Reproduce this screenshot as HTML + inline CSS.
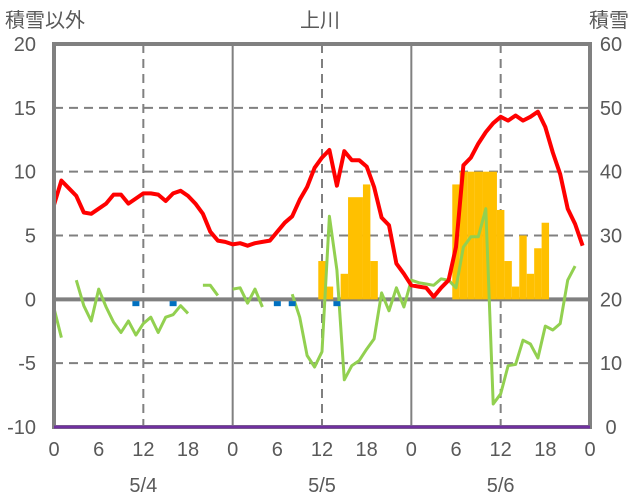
<!DOCTYPE html>
<html><head><meta charset="utf-8"><style>
html,body{margin:0;padding:0;background:#fff;}
svg{display:block;}
text{font-family:"Liberation Sans","Noto Sans CJK JP",sans-serif;fill:#595959;}
</style></head><body>
<svg id="chart" width="636" height="501" viewBox="0 0 636 501" xmlns="http://www.w3.org/2000/svg">
<g id="grid"></g>
<g id="bars"></g>
<g id="lines"></g>
<g id="frame"></g>
<g id="labels"></g>
<text x="5" y="27" font-size="20">積雪以外</text>
<text x="320" y="27" font-size="20" text-anchor="middle">上川</text>
<text x="589" y="27" font-size="20">積雪</text>
</svg>
<script>
const leftTicks=[20,15,10,5,0,-5,-10];
const rightTicks=[60,50,40,30,20,10,0];
const hourTicks=[0,6,12,18,0,6,12,18,0,6,12,18,0];
const dateLabels=['5/4','5/5','5/6'];
const temp=[7.4,9.3,8.7,8.1,6.8,6.7,7.1,7.5,8.2,8.2,7.5,7.9,8.3,8.3,8.2,7.7,8.3,8.5,8.1,7.5,6.7,5.3,4.6,4.5,
4.3,4.4,4.2,4.4,4.5,4.6,5.3,6.0,6.5,7.8,8.8,10.3,11.1,11.7,8.9,11.6,10.9,10.9,10.4,8.8,6.4,5.8,2.8,2.0,
1.1,1.0,0.9,0.2,0.9,1.5,4.1,10.5,11.1,12.2,13.1,13.8,14.3,14.0,14.4,14.0,14.3,14.7,13.5,11.5,9.8,7.1,5.9,4.2];
const green=[-0.7,-3.0,null,1.5,-0.5,-1.7,0.8,-0.6,-1.8,-2.6,-1.7,-2.8,-1.9,-1.4,-2.6,-1.4,-1.2,-0.5,-1.1,null,1.1,1.1,0.3,null,
0.8,0.9,-0.3,0.8,-0.6,null,null,null,0.4,-1.4,-4.4,-5.3,-4.1,6.5,2.3,-6.3,-5.2,-4.8,-3.9,-3.1,0.5,-0.9,0.9,-0.6,
1.5,1.3,1.2,1.1,1.6,1.5,0.9,4.1,4.9,4.9,7.1,-8.2,-7.4,-5.2,-5.1,-3.2,-3.5,-4.6,-2.1,-2.4,-1.9,1.5,2.6,null];
const snowHours=[36,37,39,40,41,42,43,54,55,56,57,58,59,60,61,62,63,64,65,66];
const snowDepth=[26,22,24,36,36,38,26,38,40,40,40,40,40,34,26,22,30,24,28,32];
const markerHours=[11,16,30,32,38];
const markerValues=[-0.3,-0.3,-0.3,-0.3,-0.3];
const baseline=-10;

const X0=54,X1=590,Y0=44,Y1=427;
const xs=h=>X0+h*(X1-X0)/72;
const yl=v=>Y0+(20-v)*(Y1-Y0)/30;
const yr=v=>Y0+(60-v)*(Y1-Y0)/60;
const NS='http://www.w3.org/2000/svg';
function mk(tag,attrs,parent){const e=document.createElementNS(NS,tag);for(const k in attrs)e.setAttribute(k,attrs[k]);document.getElementById(parent).appendChild(e);return e;}

leftTicks.forEach(v=>{
  if(v===20||v===-10)return;
  const e=mk('line',{x1:X0,x2:X1,y1:yl(v),y2:yl(v),stroke:'#808080','stroke-width':v===0?4:2,'stroke-dasharray':v===0?'none':'9,6'},'grid');
  
  
});
for(let h=12;h<72;h+=12){
  const day=h%24===0;
  const e=mk('line',{x1:xs(h),x2:xs(h),y1:Y0,y2:Y1,stroke:'#808080','stroke-width':2,'stroke-dasharray':day?'none':'9,6'},'grid');
  
  
}
const bw=(X1-X0)/72;
snowHours.forEach((h,i)=>{
  const top=yr(snowDepth[i]),b=yr(20);
  const e=mk('rect',{x:xs(h)-bw/2,y:top,width:bw,height:b-top,fill:'#ffc000'},'bars');
  
  
});
function path(arr,fn){let d='',pen=false;arr.forEach((v,i)=>{if(v===null){pen=false;return;}d+=(pen?'L':'M')+xs(i).toFixed(1)+','+fn(v).toFixed(1);pen=true;});return d;}
let g=mk('path',{d:path(green,yl),fill:'none',stroke:'#92d050','stroke-width':3,'stroke-linejoin':'round'},'lines');


let r=mk('path',{d:path(temp,yl),fill:'none',stroke:'#ff0000','stroke-width':4,'stroke-linejoin':'round'},'lines');


markerHours.forEach((h,i)=>{
  const e=mk('rect',{x:xs(h)-3.5,y:yl(markerValues[i])-2,width:7,height:5,fill:'#0070c0'},'lines');
  
  
});
let f=mk('rect',{x:X0,y:Y0,width:X1-X0,height:Y1-Y0,fill:'none',stroke:'#808080','stroke-width':4},'frame');


let p=mk('line',{x1:X0,x2:X1,y1:yl(baseline),y2:yl(baseline),stroke:'#7030a0','stroke-width':3},'frame');


leftTicks.forEach(v=>{
  const t=mk('text',{x:36,y:yl(v)+7,'font-size':20,'text-anchor':'end'},'labels');t.textContent=v;
  
  
});
rightTicks.forEach(v=>{
  const t=mk('text',{x:611,y:yr(v)+7,'font-size':20,'text-anchor':'middle'},'labels');t.textContent=v;
  
  
});
hourTicks.forEach((v,i)=>{
  const t=mk('text',{x:xs(i*6),y:456,'font-size':20,'text-anchor':'middle'},'labels');t.textContent=v;
  
  
});
dateLabels.forEach((v,i)=>{
  const t=mk('text',{x:xs(12+24*i),y:492,'font-size':20,'text-anchor':'middle'},'labels');t.textContent=v;
  
  
});
</script>
</body></html>
